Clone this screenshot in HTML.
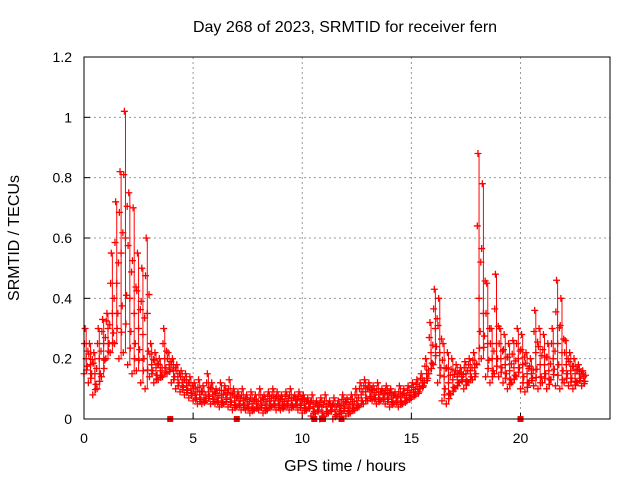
<!DOCTYPE html>
<html><head><meta charset="utf-8"><style>
body{margin:0;background:#fff}
svg{display:block;font-family:"Liberation Sans",sans-serif}
</style></head><body>
<svg id="chart" width="640" height="480" viewBox="0 0 640 480">
<rect width="640" height="480" fill="#fff"/>
<text x="345" y="32" font-size="16" text-anchor="middle">Day 268 of 2023, SRMTID for receiver fern</text>
<text x="0" y="0" font-size="16" text-anchor="middle" transform="translate(19,238) rotate(-90)">SRMTID / TECUs</text>
<text x="345" y="471" font-size="16" text-anchor="middle">GPS time / hours</text>
<g id="grid"></g>
<g id="marks"></g>
<rect x="84" y="57" width="526" height="362" fill="none" stroke="#000" stroke-width="1"/>
</svg>
<script>
const xTicks=[0,5,10,15,20];
const yTicks=[0,0.2,0.4,0.6,0.8,1,1.2];
const yTickLabels=["0","0.2","0.4","0.6","0.8","1","1.2"];
const sampleStep=0.2;
const lo=[.15,.12,.08,.10,.14,.20,.22,.25,.20,.22,.18,.15,.16,.12,.10,.14,.12,.13,.14,.15,.12,.10,.09,.08,.07,.06,.05,.05,.06,.05,.05,.04,.05,.04,.03,.04,.03,.03,.02,.03,.03,.02,.03,.04,.03,.03,.04,.03,.04,.03,.02,.03,.01,.02,0,.01,.02,0,.01,.02,.01,.02,.03,.04,.05,.06,.06,.05,.06,.05,.04,.05,.04,.05,.06,.07,.08,.10,.12,.15,.18,.12,.06,.05,.08,.10,.12,.10,.12,.13,.18,.20,.14,.12,.15,.14,.12,.10,.12,.14,.10,.09,.12,.11,.10,.12,.10,.13,.11,.10,.12,.11,.10,.12,.11];
const hi=[.30,.25,.22,.30,.33,.35,.55,.72,.82,1.02,.75,.70,.55,.50,.60,.25,.22,.20,.30,.22,.20,.18,.16,.15,.14,.12,.13,.11,.15,.12,.10,.12,.11,.13,.10,.09,.10,.08,.09,.08,.10,.08,.09,.10,.09,.08,.09,.10,.08,.09,.08,.07,.08,.06,.07,.08,.06,.07,.06,.08,.07,.08,.10,.12,.13,.12,.11,.12,.10,.11,.10,.09,.11,.10,.11,.12,.13,.15,.20,.32,.43,.40,.25,.22,.20,.18,.17,.19,.20,.22,.88,.78,.45,.30,.48,.30,.28,.25,.26,.30,.28,.22,.20,.36,.30,.28,.25,.30,.46,.40,.26,.22,.20,.18,.16];
const mid=[.20,.18,.15,.20,.25,.30,.35,.45,.55,.60,.40,.35,.30,.28,.35,.18,.17,.16,.20,.18,.16,.14,.12,.11,.10,.08,.08,.07,.09,.08,.07,.07,.08,.07,.06,.06,.06,.05,.05,.05,.06,.05,.06,.06,.06,.05,.06,.06,.06,.06,.05,.05,.04,.04,.04,.04,.04,.03,.04,.05,.04,.05,.06,.08,.09,.09,.08,.08,.08,.08,.07,.07,.07,.07,.08,.09,.10,.12,.15,.22,.30,.22,.14,.12,.13,.14,.14,.15,.16,.17,.40,.35,.25,.20,.25,.20,.18,.16,.17,.20,.18,.15,.15,.22,.18,.18,.16,.20,.25,.22,.18,.16,.15,.15,.14];
const gapTimes=[3.95,7.0,10.55,10.95,11.8,20.0];

const NS="http://www.w3.org/2000/svg";
const X0=84,X1=610,Y0=419,Y1=57;
const xs=t=>X0+t*(X1-X0)/24.1;
const ys=v=>Y0-v*(Y0-Y1)/1.2;
function mk(tag,attrs,parent){const e=document.createElementNS(NS,tag);for(const k in attrs)e.setAttribute(k,attrs[k]);parent.appendChild(e);return e;}
const grid=document.getElementById('grid');
xTicks.forEach(t=>{
  const x=xs(t);
  if(t>0){const l=mk('line',{x1:x,x2:x,y1:Y1,y2:Y0,stroke:'#999','stroke-dasharray':'2,3'},grid);
  
  }
  const tk=mk('line',{x1:x,x2:x,y1:Y0,y2:Y0-6,stroke:'#000'},grid);
  
  
  const tx=mk('text',{x:x,y:443,'font-size':14,'text-anchor':'middle'},grid);tx.textContent=t;
  
  
});
yTicks.forEach((v,i)=>{
  const y=ys(v);
  if(v>0&&v<1.2){const l=mk('line',{x1:X0,x2:X1,y1:y,y2:y,stroke:'#999','stroke-dasharray':'2,3'},grid);
  
  }
  const tk=mk('line',{x1:X0,x2:X0+6,y1:y,y2:y,stroke:'#000'},grid);
  
  
  const tx=mk('text',{x:72,y:y+5,'font-size':14,'text-anchor':'end'},grid);tx.textContent=yTickLabels[i];
  
  
});
const marks=document.getElementById('marks');
function plus(t,v,col){
  const x=xs(t),y=ys(v);
  const p=mk('path',{d:`M${x-3.5},${y}h7M${x},${y-3.5}v7`,stroke:col,'stroke-width':1.3,fill:'none'},marks);
  
  
}
lo.forEach((v,i)=>{
  const t=i*sampleStep;
  const r=mk('line',{x1:xs(t+0.1),x2:xs(t+0.1),y1:ys(lo[i]),y2:ys(hi[i]),stroke:'#f00','stroke-width':1},marks);
  
  
  plus(t,lo[i],'#f00');
  plus(t+0.1,mid[i],'#f00');
  plus(t+0.05,hi[i],'#f00');
  plus(t+0.15,(mid[i]+lo[i])/2,'#f00');
  plus(t+0.02,(mid[i]+hi[i])/2,'#f00');
  plus(t+0.12,(3*lo[i]+mid[i])/4,'#f00');
  plus(t+0.18,(mid[i]*3+hi[i])/4,'#f00');
});
gapTimes.forEach(t=>{
  const r=mk('rect',{x:xs(t)-3,y:Y0-3,width:6,height:6,fill:'#f00'},marks);
  
  
});
</script>
</body></html>
